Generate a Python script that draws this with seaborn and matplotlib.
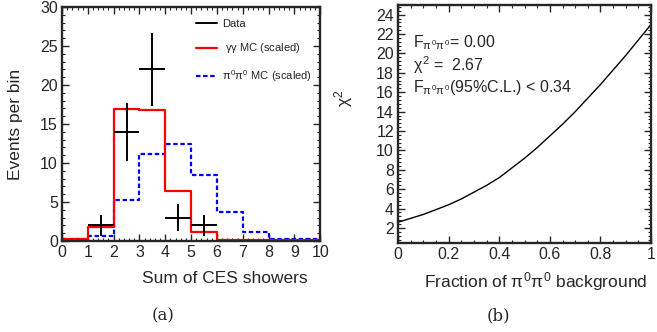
import numpy as np
import pandas as pd
import seaborn as sns
import matplotlib
matplotlib.use("Agg")
import matplotlib.pyplot as plt
from matplotlib.lines import Line2D
from matplotlib.ticker import MultipleLocator

# ---- data ----
bin_edges = [0, 1, 2, 3, 4, 5, 6, 7, 8, 9, 10]
bin_centers = [0.5, 1.5, 2.5, 3.5, 4.5, 5.5, 6.5, 7.5, 8.5, 9.5]
gg_mc = [0.2, 1.8, 16.9, 16.8, 6.4, 1.1, 0.1, 0.1, 0.1, 0.1]
pi0_mc = [0.3, 0.7, 5.2, 11.1, 12.5, 8.4, 3.7, 1.1, 0.3, 0.3]
data_x = [1.5, 2.5, 3.5, 4.5, 5.5]
data_y = [2, 14, 22, 3, 2]
data_yerr = [1.4, 3.7, 4.7, 1.7, 1.4]
data_xerr = [0.5, 0.5, 0.5, 0.5, 0.5]

frac = [0.0, 0.05, 0.1, 0.15, 0.2, 0.25, 0.3, 0.35, 0.4, 0.45, 0.5,
        0.55, 0.6, 0.65, 0.7, 0.75, 0.8, 0.85, 0.9, 0.95, 1.0]
chi2 = [2.6, 3.0, 3.4, 3.9, 4.4, 5.0, 5.7, 6.4, 7.2, 8.2, 9.2,
        10.3, 11.5, 12.7, 14.0, 15.4, 16.8, 18.3, 19.8, 21.4, 23.0]

sns.set_style("ticks")
plt.rcParams['font.family'] = ['Liberation Sans', 'DejaVu Sans']
plt.rcParams['mathtext.fontset'] = 'custom'
plt.rcParams['mathtext.rm'] = 'Liberation Sans'
plt.rcParams['mathtext.it'] = 'Liberation Sans'
plt.rcParams['mathtext.bf'] = 'Liberation Sans:bold'
plt.rcParams['axes.linewidth'] = 1.7

fig = plt.figure(figsize=(6.57, 3.32), dpi=100)
ax1 = fig.add_axes([0.0944, 0.274, 0.393, 0.705])
ax2 = fig.add_axes([0.606, 0.268, 0.385, 0.717])

df = pd.DataFrame({"x": bin_centers, "gg": gg_mc, "pi0": pi0_mc})
sns.histplot(data=df, x="x", weights="pi0", bins=bin_edges, element="step",
             fill=False, color="blue", linestyle=(0, (2, 1.2)), linewidth=1.6, ax=ax1)
sns.histplot(data=df, x="x", weights="gg", bins=bin_edges, element="step",
             fill=False, color="red", linewidth=1.6, ax=ax1)
ax1.errorbar(data_x, data_y, xerr=data_xerr, yerr=data_yerr, fmt='none',
             ecolor='black', elinewidth=1.4, capsize=0)

ax1.set_xlim(0, 10)
ax1.set_ylim(0, 30)
ax1.xaxis.set_major_locator(MultipleLocator(1))
ax1.xaxis.set_minor_locator(MultipleLocator(0.2))
ax1.yaxis.set_major_locator(MultipleLocator(5))
ax1.yaxis.set_minor_locator(MultipleLocator(1))
ax1.set_xlabel("Sum of CES showers", fontsize=12.5, loc='right')
ax1.xaxis.set_label_coords(0.950, -0.13)
ax1.set_ylabel("Events per bin", fontsize=12.5)
ax1.yaxis.set_label_coords(-0.15, 0.5)

handles = [Line2D([], [], color='black', lw=1.4),
           Line2D([], [], color='red', lw=1.6),
           Line2D([], [], color='blue', lw=1.6, linestyle=(0, (2, 1.2)))]
labels = ["Data", r" $\gamma\gamma$ MC (scaled)", r"$\pi^0\pi^0$ MC (scaled)"]
ax1.legend(handles, labels, loc='upper left', frameon=False, fontsize=8,
           handlelength=1.9, handletextpad=0.45, labelspacing=1.15,
           borderpad=0, borderaxespad=0, bbox_to_anchor=(0.52, 0.95))

sns.lineplot(x=frac, y=chi2, color='black', linewidth=1.0, ax=ax2)
ax2.set_xlim(0, 1)
ax2.set_ylim(0.45, 25.0)
ax2.xaxis.set_minor_locator(MultipleLocator(0.05))
ax2.yaxis.set_minor_locator(MultipleLocator(0.4))
ax2.set_xticks([0, 0.2, 0.4, 0.6, 0.8, 1.0])
ax2.set_xticklabels(["0", "0.2", "0.4", "0.6", "0.8", "1"])
ax2.set_yticks(range(2, 25, 2))
ax2.set_xlabel(r"Fraction of $\pi^0\pi^0$ background", fontsize=12.5, loc='right')
ax2.xaxis.set_label_coords(0.985, -0.115)
ax2.set_ylabel(r"$\chi^2$", fontsize=12.5)
ax2.yaxis.set_label_coords(-0.17, 0.61)

ax2.text(0.06, 0.840, r"F$_{\pi^0\pi^0}$= 0.00", transform=ax2.transAxes, fontsize=11.5, va='center')
ax2.text(0.06, 0.748, r"$\chi^2$ =  2.67", transform=ax2.transAxes, fontsize=11.5, va='center')
ax2.text(0.06, 0.655, r"F$_{\pi^0\pi^0}$(95%C.L.) < 0.34", transform=ax2.transAxes, fontsize=11.5, va='center')

for ax in (ax1, ax2):
    ax.tick_params(which='both', direction='in', top=True, right=True, labelsize=11.5, pad=3)
    ax.tick_params(which='major', length=5, width=1.0)
    ax.tick_params(which='minor', length=2.5, width=0.8)

fig.text(163 / 657, 1 - 316 / 332, "(a)", fontsize=12, family='DejaVu Serif', ha='center', va='center')
fig.text(498 / 657, 1 - 316 / 332, "(b)", fontsize=12, family='DejaVu Serif', ha='center', va='center')

fig.savefig("out.png", dpi=100)
